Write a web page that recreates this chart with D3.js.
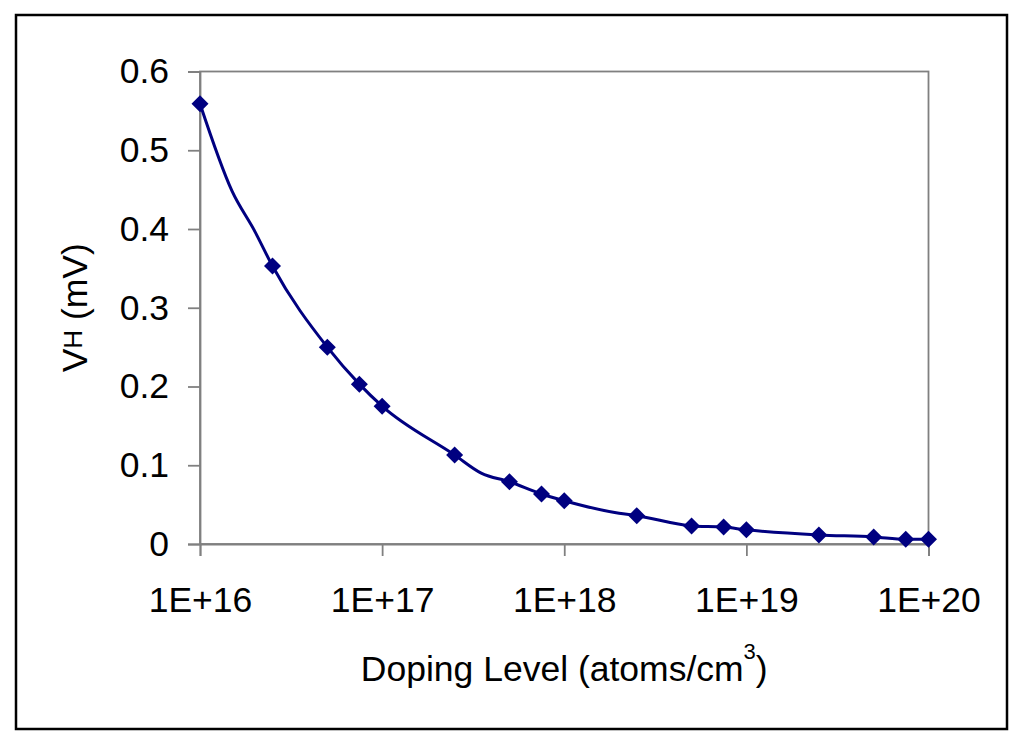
<!DOCTYPE html>
<html>
<head>
<meta charset="utf-8">
<script src="https://cdn.jsdelivr.net/npm/d3@7"></script>
<style>
  html, body { margin: 0; padding: 0; background: #fff; }
  svg { display: block; font-family: "Liberation Sans", Arial, sans-serif; }
</style>
</head>
<body>
<svg id="chart" width="1024" height="746"></svg>
<script>
// Marker data (doping level, Hall voltage in mV)
const dopingLevels = [1e16, 2.5e16, 5e16, 7.5e16, 1e17, 2.5e17, 5e17, 7.5e17, 1e18, 2.5e18, 5e18, 7.5e18, 1e19, 2.5e19, 5e19, 7.5e19, 1e20];
const hallVoltages = [0.559, 0.353, 0.250, 0.203, 0.175, 0.113, 0.079, 0.0635, 0.055, 0.036, 0.023, 0.0215, 0.018, 0.0115, 0.009, 0.006, 0.006];

// Smoothed line passes through a few extra unmarked points
const curveDoping = [1e16, 1.5e16, 2e16, 2.5e16, 5e16, 7.5e16, 1e17, 2.5e17, 3.5e17, 5e17, 7.5e17, 1e18, 2e18, 2.5e18, 5e18, 7.5e18, 1e19, 2.5e19, 5e19, 7.5e19, 1e20];
const curveVoltage = [0.559, 0.448, 0.397, 0.353, 0.250, 0.203, 0.175, 0.113, 0.090, 0.079, 0.0635, 0.055, 0.039, 0.036, 0.023, 0.0215, 0.018, 0.0115, 0.009, 0.006, 0.006];

const xTickValues = [1e16, 1e17, 1e18, 1e19, 1e20];
const xTickLabels = ["1E+16", "1E+17", "1E+18", "1E+19", "1E+20"];
const yTickValues = [0, 0.1, 0.2, 0.3, 0.4, 0.5, 0.6];
const yTickLabels = ["0", "0.1", "0.2", "0.3", "0.4", "0.5", "0.6"];

const svg = d3.select("#chart");
const plot = { left: 200, top: 71.5, right: 928.5, bottom: 544 };
const navy = "#000080";
const gray = "#808080";
const fontSize = 35.5;

// Outer frame
svg.append("rect")
  .attr("x", 16).attr("y", 15).attr("width", 991).attr("height", 714)
  .attr("fill", "#fff").attr("stroke", "#000").attr("stroke-width", 2.5);

const x = d3.scaleLog().domain([1e16, 1e20]).range([plot.left, plot.right]);
const y = d3.scaleLinear().domain([0, 0.6]).range([plot.bottom, plot.top]);

// Plot area border
svg.append("rect")
  .attr("x", plot.left).attr("y", plot.top)
  .attr("width", plot.right - plot.left).attr("height", plot.bottom - plot.top)
  .attr("fill", "none").attr("stroke", gray).attr("stroke-width", 1.8);

// Y axis
const yAxis = svg.append("g")
  .attr("transform", `translate(${plot.left},0)`)
  .call(d3.axisLeft(y).tickValues(yTickValues).tickSize(12).tickPadding(19)
        .tickFormat((d, i) => yTickLabels[i]));
yAxis.select(".domain").attr("stroke", gray).attr("stroke-width", 1.8);
yAxis.selectAll(".tick line").attr("stroke", gray).attr("stroke-width", 1.8);
yAxis.selectAll(".tick text")
  .attr("font-size", fontSize).attr("fill", "#000")
  .attr("font-family", "Liberation Sans, Arial, sans-serif");

// X axis
const xAxis = svg.append("g")
  .attr("transform", `translate(0,${plot.bottom})`)
  .call(d3.axisBottom(x).tickValues(xTickValues).tickSize(12).tickPadding(31)
        .tickFormat((d, i) => xTickLabels[i]));
xAxis.select(".domain").attr("stroke", gray).attr("stroke-width", 1.8);
xAxis.selectAll(".tick line").attr("stroke", gray).attr("stroke-width", 1.8);
xAxis.selectAll(".tick text")
  .attr("font-size", fontSize).attr("fill", "#000")
  .attr("font-family", "Liberation Sans, Arial, sans-serif");

// Smoothed line
const lineData = curveDoping.map((d, i) => ({ x: d, y: curveVoltage[i] }));
const line = d3.line().x(d => x(d.x)).y(d => y(d.y)).curve(d3.curveMonotoneX);
svg.append("path")
  .datum(lineData)
  .attr("d", line)
  .attr("fill", "none").attr("stroke", navy).attr("stroke-width", 3);

// Diamond markers
const pts = dopingLevels.map((d, i) => ({ x: d, y: hallVoltages[i] }));
const r = 8.5;
svg.append("g").selectAll("path")
  .data(pts).join("path")
  .attr("transform", d => `translate(${x(d.x)},${y(d.y)})`)
  .attr("d", `M0,${-r}L${r},0L0,${r}L${-r},0Z`)
  .attr("fill", navy);

// Y axis title
const yt = svg.append("text")
  .attr("transform", `translate(87,${(plot.top + plot.bottom) / 2}) rotate(-90)`)
  .attr("text-anchor", "middle")
  .attr("font-size", fontSize).attr("fill", "#000");
yt.append("tspan").text("V");
yt.append("tspan").attr("font-size", 26).attr("dy", -5).text("H");
yt.append("tspan").attr("dy", 5).text(" (mV)");

// X axis title
const xt = svg.append("text")
  .attr("x", (plot.left + plot.right) / 2).attr("y", 681)
  .attr("text-anchor", "middle")
  .attr("font-size", fontSize).attr("fill", "#000");
xt.append("tspan").text("Doping Level (atoms/cm");
xt.append("tspan").attr("font-size", 22).attr("dy", -22).text("3");
xt.append("tspan").attr("dy", 22).text(")");
</script>
</body>
</html>
